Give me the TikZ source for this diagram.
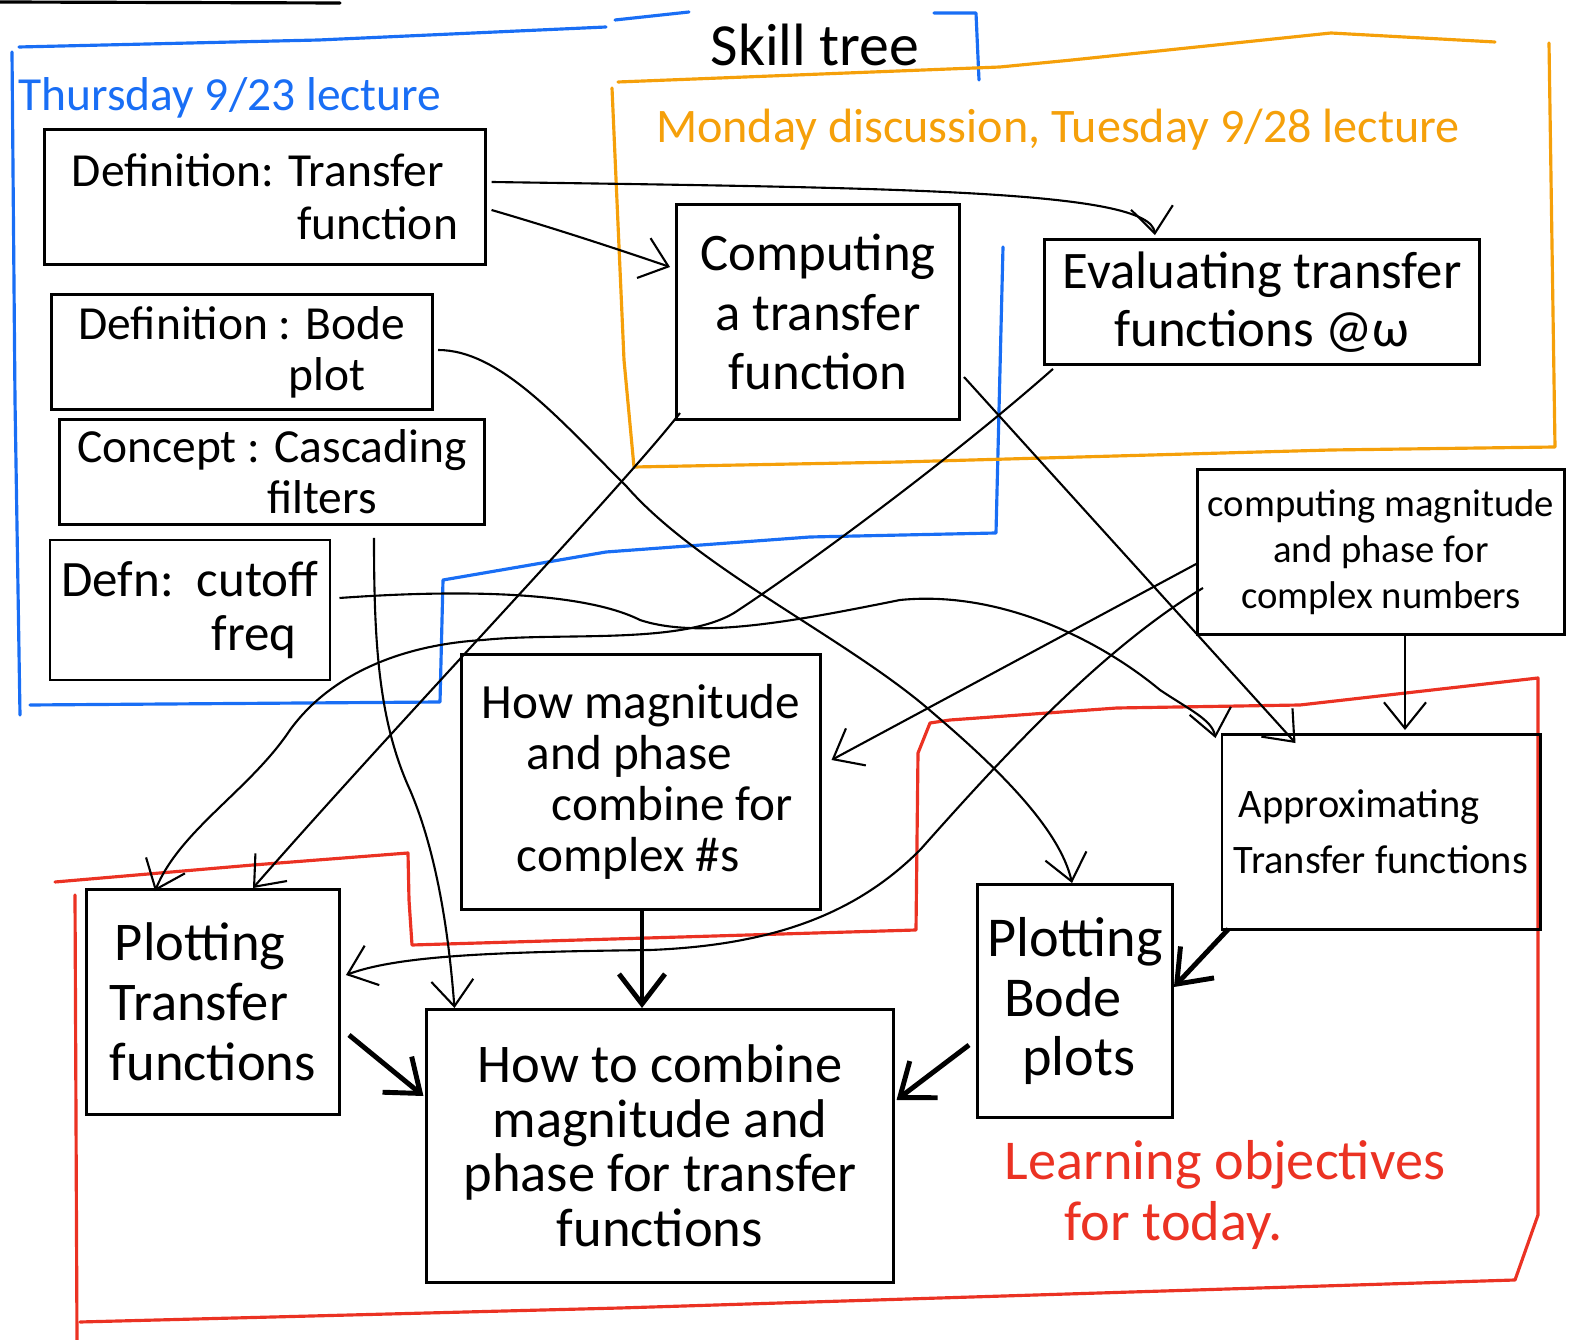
\documentclass[tikz,border=0pt]{standalone}
\usepackage{fontspec}
\setmainfont{Carlito}
\usetikzlibrary{arrows.meta,calc}
\definecolor{myblue}{RGB}{25,110,245}
\definecolor{myorange}{RGB}{245,160,10}
\definecolor{myred}{RGB}{235,50,35}
\newcommand{\fsz}[2]{\fontsize{#1}{#2}\selectfont}
\begin{document}
\begin{tikzpicture}[x=0.01cm,y=-0.01cm,
  box/.style={draw, line width=0.8pt, inner sep=0pt, align=left},
  conn/.style={line width=0.6pt, -{Straight Barb[length=2.6mm,width=4.2mm]}},
  bold conn/.style={line width=1.4pt, -{Straight Barb[length=3mm,width=4.6mm]}},
  region/.style={line width=0.9pt, line join=round, line cap=round},
  lbl/.style={inner sep=0pt, align=left}]
\useasboundingbox (0,0) rectangle (1575,1340);

% ---------- region borders ----------
\draw[region] (0,2) -- (340,3);
\draw[region, myblue] (19,47) -- (319,40) -- (606,27);
\draw[region, myblue] (615,20) -- (689,12);
\draw[region, myblue] (934,13) -- (976,13) -- (979,80);
\draw[region, myblue] (12,52) -- (15,400) -- (20,715);
\draw[region, myblue] (30,705) -- (440,702) -- (443,580) -- (606,552) -- (810,537) -- (996,533) -- (1003,247);
\draw[region, myorange] (618,82) -- (1000,67) -- (1072,60) -- (1331,33) -- (1495,42);
\draw[region, myorange] (1549,43) -- (1555,447) -- (1331,450) -- (900,462) -- (634,467) -- (624,360) -- (612,88);
\draw[region, myred] (55,882) -- (253,865) -- (408,853) -- (409,900) -- (412,945) -- (916,930) -- (918,753) -- (930,723) -- (950,720) -- (1117,708) -- (1300,705) -- (1538,678) -- (1538,1215) -- (1515,1280) -- (620,1308) -- (80,1322);
\draw[region, myred] (75,895) -- (77,1340);

% ---------- labels ----------
\node[lbl, font=\fsz{17}{19}] (title) at (815,45) {Skill tree};
\node[lbl, text=myblue, font=\fsz{13.5}{16}] (thu) at (230,98) {Thursday 9/23 lecture};
\node[lbl, text=myorange, font=\fsz{13.7}{16}] (mon) at (1058,130) {Monday discussion, Tuesday 9/28 lecture};
\node[lbl, text=myred, font=\fsz{16}{17.5}] (learn) at (1225,1195) {Learning objectives\\\hspace*{0.6cm}for today.};

% ---------- boxes ----------
\node[box, minimum width=4.40cm, minimum height=1.35cm, font=\fsz{13.5}{15}] (deftf) at (265,197) {Definition: Transfer\\\hspace*{2.25cm}function};
\node[box, minimum width=3.81cm, minimum height=1.15cm, font=\fsz{13.5}{14.5}] (defbode) at (242,352) {Definition : Bode\\\hspace*{2.1cm}plot};
\node[box, minimum width=4.25cm, minimum height=1.05cm, font=\fsz{13.5}{14.5}] (cascade) at (272,472) {Concept : Cascading\\\hspace*{1.9cm}filters};
\node[box, minimum width=2.80cm, minimum height=1.40cm, font=\fsz{14.5}{15.5}] (cutoff) at (190,610) {Defn:\ \ cutoff\\\hspace*{1.5cm}freq};
\node[box, minimum width=2.83cm, minimum height=2.15cm, font=\fsz{15}{17}, align=center] (comptf) at (818,312) {Computing\\a transfer\\function};
\node[box, minimum width=4.35cm, minimum height=1.25cm, font=\fsz{15}{16.5}, align=center] (evaltf) at (1262,302) {Evaluating transfer\\functions @ω};
\node[box, minimum width=3.67cm, minimum height=1.65cm, font=\fsz{11}{13}, align=center] (compmag) at (1381,552) {computing magnitude\\and phase for\\complex numbers};
\node[box, minimum width=3.58cm, minimum height=2.55cm, font=\fsz{14}{14.5}] (howmag) at (641,782) {How magnitude\\\hspace*{0.45cm}and phase\\\hspace*{0.7cm}combine for\\\hspace*{0.35cm}complex \#s};
\node[box, minimum width=3.18cm, minimum height=1.95cm, font=\fsz{11.5}{16}] (approx) at (1381,832) {\hspace*{0.05cm}Approximating\\Transfer functions};
\node[box, minimum width=2.53cm, minimum height=2.25cm, font=\fsz{15.5}{17}] (plottf) at (213,1002) {\hspace*{0.05cm}Plotting\\Transfer\\functions};
\node[box, minimum width=1.95cm, minimum height=2.33cm, font=\fsz{16}{17}] (plotbode) at (1075,1001) {Plotting\\\hspace*{0.17cm}Bode\\\hspace*{0.35cm}plots};
\node[box, minimum width=4.66cm, minimum height=2.73cm, font=\fsz{15.5}{15.5}, align=center] (combine) at (660,1146) {How to combine\\magnitude and\\phase for transfer\\functions};

% ---------- connectors ----------
\draw[conn] ($(deftf.east)+(5,-15)$) .. controls (900,188) and (1150,190) .. ($(evaltf.north west)+(112,-3)$);
\draw[conn] ($(deftf.east)+(5,13)$) .. controls (560,230) and (620,250) .. ($(comptf.west)+(-5,-45)$);
\draw[conn] ($(defbode.east)+(4,-2)$) .. controls (500,350) and (560,420) .. (627,487)
   .. controls (700,570) and (850,640) .. (933,713)
   .. controls (1000,770) and (1060,830) .. ($(plotbode.north)+(-3,0)$);
\draw[conn] ($(comptf.south west)+(5,-8)$) .. controls (620,490) and (400,720) .. ($(plottf.north)+(40,0)$);
\draw[conn] ($(evaltf.south west)+(10,3)$) .. controls (950,460) and (800,570) .. (734,613)
   .. controls (680,645) and (560,632) .. (483,640)
   .. controls (400,645) and (330,675) .. (290,730)
   .. controls (250,790) and (180,830) .. ($(plottf.north)+(-58,3)$);
\draw[conn] ($(cutoff.east)+(8,-12)$) .. controls (450,590) and (580,590) .. (640,620)
   .. controls (700,640) and (800,620) .. (900,600)
   .. controls (1000,590) and (1100,640) .. (1160,690)
   .. controls (1190,710) and (1212,720) .. ($(approx.north west)+(-5,5)$);
\draw[conn] ($(comptf.east)+(3,65)$) -- ($(approx.north west)+(75,10)$);
\draw[conn] ($(cascade.south)+(102,12)$) .. controls (374,640) and (378,720) .. (410,790)
   .. controls (440,860) and (450,950) .. ($(combine.north west)+(29,0)$);
\draw[conn] ($(compmag.west)+(2,11)$) -- ($(howmag.east)+(10,-22)$);
\draw[conn] ($(compmag.west)+(7,36)$) .. controls (1100,650) and (1000,760) .. (920,850)
   .. controls (860,910) and (780,945) .. (650,950)
   .. controls (500,952) and (400,955) .. ($(plottf.east)+(5,-27)$);
\draw[conn] ($(compmag.south)+(24,0)$) -- ($(approx.north)+(24,-3)$);
\draw[bold conn] ($(howmag.south)+(1,0)$) -- ($(combine.north)+(-18,0)$);
\draw[bold conn] ($(plottf.east)+(8,33)$) -- ($(combine.west)+(-2,-50)$);
\draw[bold conn] ($(plotbode.west)+(-7,44)$) -- ($(combine.east)+(2,-46)$);
\draw[bold conn] ($(approx.south west)+(8,-2)$) -- ($(plotbode.east)+(0,-14)$);
\end{tikzpicture}
\end{document}
